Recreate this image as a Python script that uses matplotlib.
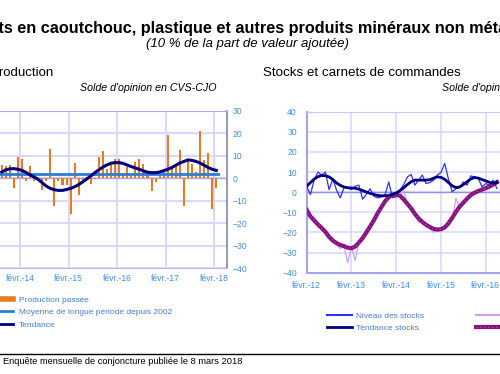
import numpy as np
import matplotlib
matplotlib.use('Agg')
import matplotlib.pyplot as plt
from matplotlib.lines import Line2D

plt.rcParams['font.family'] = ['Liberation Sans', 'DejaVu Sans']

W, H = 500, 374


def mnum(y, m):
    # month number, used as x coordinate
    return y * 12 + m - 1


def rect(x0, y_top, x1, y_bot):
    # pixel box -> figure fraction [left, bottom, width, height]
    return [x0 / W, 1 - y_bot / H, (x1 - x0) / W, (y_bot - y_top) / H]


# Production : solde d'opinion, sept. 2013 -> févr. 2018
prod_start = mnum(2013, 9)
production_passee = [6.1, 5.5, 6.0, -4.3,
                     9.5, 8.5, -1.0, 5.5, -1.2, -0.5, -5.0, -1.0, 13.0, -12.5, -1.0, -3.0,
                     -3.0, -15.8, 7.0, -7.5, -1.0, 0.5, -2.4, -0.5, 9.5, 12.0, 4.3, 5.8,
                     8.5, 8.5, 2.0, 5.0, 1.0, 7.3, 8.5, 6.5, 2.0, -5.8, -1.6, 1.3,
                     3.5, 19.2, 4.3, 5.5, 12.5, -12.2, 8.0, 6.5, 3.0, 21.0, 8.0, 11.3,
                     -13.5, -4.2]
tendance_prod = [2.8, 3.8, 4.2, 4.3,
                 4.0, 3.5, 2.6, 1.5, 0.6, -0.5, -2.0, -3.5, -4.5, -5.1, -5.4, -5.4,
                 -5.0, -4.5, -3.8, -2.8, -1.6, -0.3, 1.0, 2.5, 3.8, 5.0, 6.0, 6.7,
                 7.0, 7.0, 6.6, 5.9, 5.2, 4.6, 4.0, 3.3, 2.7, 2.5, 2.5, 2.8,
                 3.4, 4.0, 4.8, 5.8, 6.8, 7.5, 8.2, 8.0, 7.5, 6.8, 5.8, 4.8,
                 4.0, 3.5]
moyenne_longue = 2.1
prod_ticks = ['févr.-14', 'févr.-15', 'févr.-16', 'févr.-17', 'févr.-18']

# Stocks et carnets : févr. 2012 -> mai 2016 (partie visible)
stk_start = mnum(2012, 2)
niveau_stocks = [3.0, -1.2, 6.0, 10.0, 8.5, 10.0, 1.3, 6.5, 1.0, -2.8, 2.3, 2.3,
                 1.3, 3.0, 3.5, -3.5, -1.0, 1.7, -2.0, -2.8, -2.3, -1.2, 5.1, -2.7,
                 -2.3, 1.0, 3.8, 7.6, 8.8, 3.5, 6.0, 8.5, 4.3, 4.8, 6.0, 8.5,
                 9.8, 14.3, 6.5, 0.2, 1.8, 2.3, 5.1, 3.5, 8.1, 7.6, 6.8, 2.7,
                 4.3, 3.5, 6.0, 1.8]
tendance_stocks = [3.0, 4.8, 6.5, 7.7, 8.3, 8.2, 7.6, 6.3, 4.6, 3.4, 2.6, 2.2,
                   2.1, 2.0, 1.5, 0.8, 0.1, -0.6, -1.1, -1.6, -1.8, -1.8, -1.6, -1.0,
                   -0.4, 0.8, 2.2, 3.8, 5.2, 6.0, 6.0, 6.0, 6.0, 6.2, 7.0, 7.6,
                   7.4, 6.4, 4.8, 3.2, 2.3, 2.6, 3.8, 5.2, 6.6, 7.3, 7.0, 6.3,
                   5.6, 4.9, 4.5, 4.8]
carnets = [-9.0, -12.0, -14.0, -17.0, -19.0, -20.0, -21.0, -25.0, -26.0, -28.0, -27.0, -35.0,
           -27.0, -34.0, -25.0, -22.0, -20.0, -17.0, -13.0, -11.0, -7.0, -4.0, -3.0, -1.0,
           -0.5, -2.0, 1.0, -6.0, -8.0, -11.0, -15.0, -14.0, -16.0, -18.0, -20.0, -18.0,
           -19.0, -17.0, -14.0, -14.0, -3.0, -8.0, -5.0, -4.0, -1.0, 0.0, 1.0, 1.0,
           2.0, 3.0, 4.0, 6.0]
tendance_carnets = [-8.8, -12.0, -14.0, -16.0, -17.7, -19.7, -22.2, -24.0, -25.3, -26.2, -26.8, -27.6,
                    -27.8, -27.0, -25.0, -22.8, -20.0, -17.0, -14.0, -10.5, -7.5, -4.5, -2.5, -1.4,
                    -1.2, -1.8, -3.6, -5.8, -8.0, -10.8, -13.0, -14.8, -16.2, -17.3, -18.2, -18.6,
                    -18.4, -17.5, -15.5, -12.8, -9.8, -7.2, -5.2, -3.2, -1.4, -0.3, 0.6, 1.3,
                    2.0, 2.8, 3.8, 5.0]
stk_ticks = ['févr.-12', 'févr.-13', 'févr.-14', 'févr.-15', 'févr.-16', 'févr.-17', 'févr.-18']

tick_blue = '#3f8fe8'
text_blue = '#3f80d8'
grid_col = '#d6d6ff'
orange = '#ec7a1c'
navy = '#000080'
purple = '#86127f'
dots = '#b964b6'


def tick_pos(labels):
    return [mnum(2000 + int(lab[-2:]), 2) for lab in labels]


fig = plt.figure(figsize=(W / 100, H / 100), dpi=100)

# ---------- Production ----------
ax1 = fig.add_axes(rect(-60, 111, 227, 268))
xlo, xhi = mnum(2014, 2) - 19.76, mnum(2014, 2) + 51.14
xp = np.arange(len(production_passee)) + prod_start + 0.5
ax1.bar(xp, production_passee, width=0.5, color=orange, zorder=2)
ax1.axhline(moyenne_longue, xmax=(xp[-1] + 0.3 - xlo) / (xhi - xlo),
            color='#2a7fd4', lw=2, zorder=3)
ax1.plot(xp, tendance_prod, color=navy, lw=2.2, zorder=4)
ax1.axhline(0, color='#a8a8f0', lw=1, zorder=1)

ax1.set_xlim(xlo, xhi)
ax1.set_ylim(-40, 30)
ax1.set_yticks(np.arange(-40, 31, 10))
ax1.set_xticks(tick_pos(prod_ticks))
ax1.set_xticklabels(prod_ticks)
ax1.yaxis.tick_right()
ax1.tick_params(length=0, labelsize=6.2, labelcolor=tick_blue)
ax1.tick_params(axis='y', pad=4)
ax1.tick_params(axis='x', pad=4)
ax1.grid(True, color=grid_col, lw=1.3, zorder=0)
ax1.set_axisbelow(True)
ax1.spines['right'].set_color('#8e8eb0')
ax1.spines['right'].set_linewidth(1.3)
ax1.spines['top'].set_color('#a8a8ee')
ax1.spines['bottom'].set_color('#b8b8f2')
ax1.spines['left'].set_visible(False)

h1 = [Line2D([], [], color=orange, lw=4),
      Line2D([], [], color='#2a7fd4', lw=2),
      Line2D([], [], color=navy, lw=2)]
ax1.legend(h1, ['Production passée', 'Moyenne de longue période depuis 2002', 'Tendance'],
           loc='upper left', bbox_to_anchor=(-20 / W, 1 - 296 / H), bbox_transform=fig.transFigure,
           frameon=False, fontsize=6, handlelength=4, handletextpad=0.7, labelspacing=0.55,
           borderpad=0, borderaxespad=0, labelcolor=text_blue)

# ---------- Stocks et carnets ----------
ax2 = fig.add_axes(rect(306.7, 111.7, 579, 272.7))
xs = np.arange(len(niveau_stocks)) + stk_start
ax2.axhline(0, color='#9090f0', lw=1, zorder=1)
ax2.plot(xs, carnets, color='#cf9ff5', lw=0.9, zorder=2)
ax2.plot(xs, niveau_stocks, color='#3030ff', lw=0.9, zorder=3)
ax2.plot(xs, tendance_carnets, color=purple, lw=3, zorder=4)
ax2.plot(xs, tendance_carnets, color=dots, lw=0.8, ls=(0, (1, 2.5)), alpha=0.8, zorder=5)
ax2.plot(xs, tendance_stocks, color=navy, lw=2, zorder=6)

ax2.set_xlim(stk_start, stk_start + 73)
ax2.set_ylim(-40, 40)
ax2.set_yticks(np.arange(-40, 41, 10))
ax2.set_xticks(tick_pos(stk_ticks))
ax2.set_xticklabels(stk_ticks)
ax2.tick_params(length=0, labelsize=6.2, labelcolor=tick_blue)
ax2.tick_params(axis='y', pad=7)
ax2.tick_params(axis='x', pad=6)
ax2.grid(True, color=grid_col, lw=1.1, zorder=0)
ax2.set_axisbelow(True)
for side in ['left', 'bottom']:
    ax2.spines[side].set_color('#a4a4f4')
    ax2.spines[side].set_linewidth(1.5)
ax2.spines['top'].set_color('#c8c8ff')
ax2.spines['right'].set_visible(False)

h2 = [Line2D([], [], color='#3030ff', lw=1.5),
      Line2D([], [], color=navy, lw=2),
      Line2D([], [], color='#cf9ff5', lw=1.5),
      (Line2D([], [], color=purple, lw=3),
       Line2D([], [], color=dots, lw=0.8, ls=(0, (1, 2.5)), alpha=0.8))]
ax2.legend(h2, ['Niveau des stocks', 'Tendance stocks', 'Carnets de commandes', 'Tendance carnets'],
           ncol=2, loc='upper left', bbox_to_anchor=(327 / W, 1 - 312.5 / H),
           bbox_transform=fig.transFigure, frameon=False, fontsize=6, handlelength=3,
           handletextpad=0.5, labelspacing=0.45, columnspacing=6.2, borderpad=0,
           borderaxespad=0, labelcolor=text_blue)

# ---------- texts ----------
fig.text(253 / W, 1 - 28 / H,
         'Produits en caoutchouc, plastique et autres produits minéraux non métalliques',
         ha='center', va='center', fontsize=11.7, fontweight='bold')
fig.text(247 / W, 1 - 44 / H, '(10 % de la part de valeur ajoutée)',
         ha='center', va='center', fontsize=9.5, style='italic')
fig.text(-9 / W, 1 - 73 / H, 'Production', ha='left', va='center', fontsize=9.5)
fig.text(263 / W, 1 - 73 / H, 'Stocks et carnets de commandes', ha='left', va='center', fontsize=9.6)
fig.text(216 / W, 1 - 88 / H, "Solde d'opinion en CVS-CJO", ha='right', va='center',
         fontsize=7.7, style='italic')
fig.text(578 / W, 1 - 88 / H, "Solde d'opinion en CVS-CJO", ha='right', va='center',
         fontsize=7.7, style='italic')

fig.add_artist(Line2D([0, 1], [1 - 354 / H] * 2, transform=fig.transFigure, color='black', lw=1))
fig.text(3 / W, 1 - 362 / H, 'Enquête mensuelle de conjoncture publiée le 8 mars 2018',
         ha='left', va='center', fontsize=6.7)

fig.savefig('out.png', dpi=100)
